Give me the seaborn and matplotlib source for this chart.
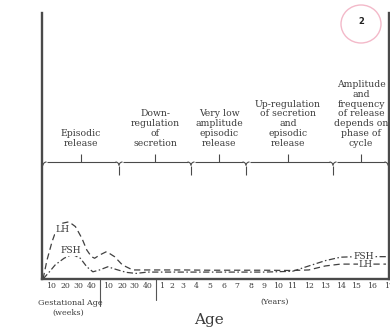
import numpy as np
import pandas as pd
import matplotlib
matplotlib.use("Agg")
import matplotlib.pyplot as plt
import seaborn as sns
from matplotlib.patches import Ellipse
from matplotlib.transforms import blended_transform_factory

# ---------------- data ----------------
# age is expressed in weeks since conception:
#   gestational week w -> w ; postnatal week w -> 40 + w ; year y -> 40 + 52.18*y
WEEKS_PER_YEAR = 52.18
BIRTH = 40

def years(y):
    return BIRTH + WEEKS_PER_YEAR * np.asarray(y, dtype=float)

# early life (fetal + first postnatal year), ages in weeks since conception
lh_early_age = [4.2, 7.1, 10.7, 13.6, 17.3, 22.6, 27.5, 32.4, 36.1, 39.6,
                41.7, 44.8, 49.2, 54.7, 60.2, 68.6, 80.0]
lh_early = [0.0, 7.1, 13.9, 18.4, 20.9, 21.5, 19.7, 15.3, 10.9, 8.4,
            7.8, 9.0, 10.3, 8.4, 5.3, 3.4, 3.4]
fsh_early_age = [4.2, 8.9, 12.9, 19.0, 25.1, 31.2, 36.1, 40.6,
                 44.8, 50.0, 55.8, 63.3, 71.3, 80.0]
fsh_early = [0.0, 2.7, 5.3, 7.8, 9.3, 7.8, 4.6, 2.7,
             3.4, 4.6, 3.6, 2.5, 2.1, 2.6]

# childhood and puberty, ages in years
late_years = [1, 3, 5, 7, 9, 11, 12, 13, 14, 15, 16, 16.85]
lh_late = [3.4, 3.4, 3.3, 3.3, 3.3, 3.2, 3.4, 4.9, 5.6, 5.6, 5.6, 5.6]
fsh_late = [2.6, 2.6, 2.6, 2.6, 2.6, 2.9, 4.9, 6.9, 8.2, 8.4, 8.4, 8.4]

# tick labels
gest_ticks = [10, 20, 30, 40]
post_ticks = [10, 20, 30, 40]
year_ticks = list(range(1, 18))

phase_labels = ["Episodic\nrelease",
                "Down-\nregulation\nof\nsecretion",
                "Very low\namplitude\nepisodic\nrelease",
                "Up-regulation\nof secretion\nand\nepisodic\nrelease",
                "Amplitude\nand\nfrequency\nof release\ndepends on\nphase of\ncycle"]

# ---------------- frame ----------------
df = pd.concat([
    pd.DataFrame({"age": list(lh_early_age) + list(years(late_years)),
                  "level": lh_early + lh_late, "hormone": "LH"}),
    pd.DataFrame({"age": list(fsh_early_age) + list(years(late_years)),
                  "level": fsh_early + fsh_late, "hormone": "FSH"}),
], ignore_index=True)

sns.set_style("white")
plt.rcParams["font.family"] = ["DejaVu Serif", "DejaVu Sans"]

W, H = 390, 331
fig = plt.figure(figsize=(W / 100, H / 100), dpi=100)
ax = fig.add_axes([42 / W, 52 / H, (388.5 - 42) / W, 266 / H])

INK = "#3c3c3c"
sns.lineplot(data=df, x="age", y="level", style="hormone",
             dashes={"LH": (5, 3), "FSH": (5, 2, 1.2, 2)},
             color="#404040", lw=0.9, legend=False, estimator=None,
             sort=False, ax=ax)

# piecewise age scale (positions measured from the printed axis)
tick_ages = ([float(w) for w in gest_ticks] + [BIRTH + float(w) for w in post_ticks]
             + list(years(year_ticks)))
tick_pos = [51, 65.7, 79, 92.3, 108.3, 122.7, 135, 148.3,
            162.7, 173.3, 184.3, 197.7, 211, 225.3, 238.3, 252.3, 265.7,
            280, 294.3, 310.7, 327.3, 342.7, 358.3, 374.3, 391]
k_age = np.array([-1000.0, 0.0] + tick_ages + [1e5])
k_pos = np.array([37.3 - 1370.0, 37.3] + tick_pos
                 + [391 + (1e5 - tick_ages[-1]) * 16.0 / WEEKS_PER_YEAR])

def fwd(a):
    return np.interp(a, k_age, k_pos)

def inv(p):
    return np.interp(p, k_pos, k_age)

ax.set_xscale("function", functions=(fwd, inv))
ax.set_xlim(inv(42.0), inv(388.5))
ax.set_ylim(0, 100)
ax.set_xticks(tick_ages, [str(t) for t in gest_ticks] + [str(t) for t in post_ticks]
              + [str(t) for t in year_ticks])
ax.set_yticks([])
ax.minorticks_off()
ax.tick_params(axis="x", length=0, pad=2.5, labelsize=5.6, labelcolor=INK)
ax.set_xlabel("")
ax.set_ylabel("")
ax.spines["top"].set_visible(False)
for s in ("left", "right", "bottom"):
    ax.spines[s].set_linewidth(1.7)
    ax.spines[s].set_color("#4a4a4a")

# curve labels
lab_kw = dict(ha="center", va="center", fontsize=6.6, color=INK,
              bbox=dict(fc="white", ec="none", pad=0.4))
ax.text(17.7, 18.6, "LH", **lab_kw)
ax.text(23.9, 10.6, "FSH", **lab_kw)
ax.text(years(15.48), 8.5, "FSH", **lab_kw)
ax.text(years(15.6), 5.6, "LH", **lab_kw)

# period separators below the axis
bt = blended_transform_factory(ax.transData, ax.transAxes)
ax.plot([45, 45], [0, -0.103], transform=bt, clip_on=False, color="#555", lw=0.8)
ax.plot([87.5, 87.5], [0, -0.08], transform=bt, clip_on=False, color="#555", lw=0.8)

# ---------------- annotation layer (pixel coords) ----------------
ann = fig.add_axes([0, 0, 1, 1])
ann.set_xlim(0, W)
ann.set_ylim(H, 0)
ann.set_axis_off()
ann.patch.set_alpha(0)

bx = [43, 119, 191, 246, 333, 388]
cx = [81, 155, 219, 288, 361]
yl, ydrop, ytop, r = 162, 175, 154, 3.5
lc = dict(color="#4a4a4a", lw=0.8, solid_capstyle="butt")
t = np.linspace(0, np.pi / 2, 12)
for i, b in enumerate(bx):
    if i > 0:  # arc to the left
        ann.plot(b - r + r * np.cos(t), yl + r - r * np.sin(t), **lc)
    if i < len(bx) - 1:  # arc to the right
        ann.plot(b + r - r * np.cos(t), yl + r - r * np.sin(t), **lc)
    if 0 < i < len(bx) - 1:
        ann.plot([b, b], [yl + r, ydrop], **lc)
for i in range(len(bx) - 1):
    ann.plot([bx[i] + r, bx[i + 1] - r], [yl, yl], **lc)
for c in cx:
    ann.plot([c, c], [yl, ytop], **lc)

for c, s in zip(cx, phase_labels):
    ann.text(c, 148, s, ha="center", va="bottom", fontsize=6.7,
             linespacing=1.12, color=INK)

ann.text(70, 303, "Gestational Age", ha="center", va="center", fontsize=5.8, color=INK)
ann.text(68, 313, "(weeks)", ha="center", va="center", fontsize=5.8, color=INK)
ann.text(275, 302, "(Years)", ha="center", va="center", fontsize=5.8, color=INK)
ann.text(209, 320, "Age", ha="center", va="center", fontsize=11, color=INK)

ann.add_patch(Ellipse((361, 24), 40, 38, fill=False, ec="#f3b9c9", lw=1.0))
ann.text(361, 22, "2", ha="center", va="center", fontsize=6, fontweight="bold",
         family="DejaVu Sans", color="#222")

fig.savefig("out.png", dpi=100, facecolor="white")
